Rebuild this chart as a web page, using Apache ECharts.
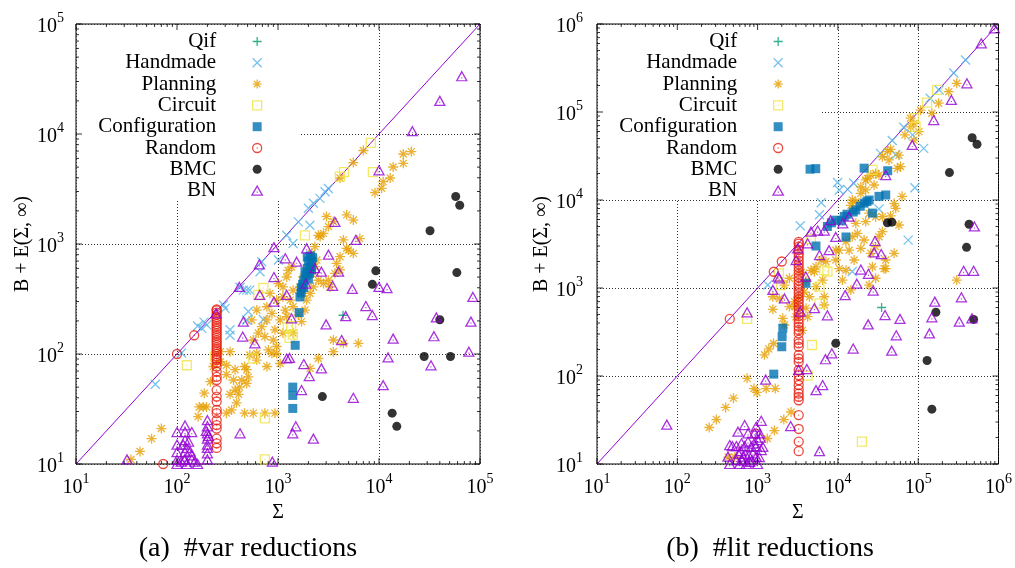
<!DOCTYPE html>
<html>
<head>
<meta charset="utf-8">
<title>B + E(Σ, ∞) against Σ</title>
<script src="https://cdn.jsdelivr.net/npm/echarts@6/dist/echarts.min.js"></script>
<style>
  html, body { margin: 0; padding: 0; background: #fff; }
  #chart { width: 1015px; height: 568px; }
</style>
</head>
<body>
<div id="chart"></div>
<script>
// ---------- data: [Σ, B + E(Σ, ∞)] per benchmark family ----------

// decade exponents shown on the axes (10^first .. 10^last)
const varExponents = [1, 2, 3, 4, 5];
const litExponents = [1, 2, 3, 4, 5, 6];

const familyNames = ['Qif', 'Handmade', 'Planning', 'Circuit', 'Configuration', 'Random', 'BMC', 'BN'];

// (a) #var reductions
const varQif = [[4400, 225]];
const varHandmade = [
  [61, 53], [111, 102], [160, 180], [176, 171], [197, 184], [185, 195], [288, 279], [299, 260],
  [335, 166], [335, 148], [421, 404], [454, 381], [490, 381], [525, 381], [490, 204], [508, 243],
  [664, 560], [690, 690], [716, 206], [1010, 716], [1220, 1200], [1410, 1010], [1590, 1590],
  [2070, 1480], [2000, 2110], [2240, 2350], [2600, 2600], [2920, 2990], [3150, 3200]
];
const varPlanning = [
  [35, 11], [43, 13], [56, 17], [70, 21], [162, 27], [166, 33], [182, 33], [196, 33], [186, 44],
  [214, 56], [229, 77], [269, 85], [309, 79], [269, 105], [335, 105], [309, 65], [363, 58], [335, 43],
  [376, 47], [389, 36], [309, 29], [347, 31], [417, 50], [437, 58], [407, 43], [490, 54], [508, 62],
  [468, 29], [569, 29], [741, 29], [933, 29], [490, 72], [468, 77], [376, 72], [525, 98], [617, 88],
  [617, 101], [569, 134], [638, 155], [741, 144], [776, 77], [802, 109], [899, 134], [970, 101],
  [1050, 82], [690, 177], [776, 204], [871, 234], [776, 269], [970, 309], [832, 355], [1010, 437],
  [1120, 407], [1220, 501], [1260, 575], [1360, 617], [1120, 331], [1180, 251], [1320, 309],
  [1410, 269], [1590, 226], [1710, 197], [1410, 380], [1650, 407], [1220, 219], [1050, 204],
  [933, 166], [1120, 155], [970, 117], [871, 101], [1410, 155], [1710, 355], [1920, 309],
  [1850, 251], [2080, 355], [2240, 407], [2510, 468], [2820, 437], [3160, 468], [3270, 407],
  [3660, 541], [3800, 667], [4110, 767], [4790, 912], [4440, 1090], [4970, 881], [5570, 822],
  [2150, 822], [2320, 946], [2610, 1170], [2820, 1250], [3160, 1440], [3530, 1600], [3020, 1780],
  [2510, 1200], [2420, 716], [2000, 622], [2320, 622], [2150, 541], [1780, 501], [4110, 581],
  [4790, 1840], [5570, 1650], [6460, 1120], [3530, 134], [3530, 105], [4440, 125], [6240, 125],
  [2510, 91], [2080, 74], [4110, 3980], [5570, 5500], [7000, 7080], [9120, 2930], [10600, 3210],
  [11000, 3690], [12900, 3980], [13800, 5010], [17400, 5410], [17400, 6580], [20900, 6920],
  [617, 251], [550, 204]
];
const varCircuit = [
  [125, 79], [238, 95], [569, 91], [741, 26], [741, 11], [638, 344], [716, 398], [1250, 175],
  [1350, 180], [1400, 150], [1300, 140], [1850, 1200], [8300, 8300], [8700, 4500], [4500, 4500],
  [4100, 4100]
];
const varConfiguration = [
  [2100, 780], [2150, 700], [2100, 620], [2000, 700], [1950, 600], [2050, 540], [1900, 520],
  [1800, 470], [1750, 430], [1700, 400], [1850, 560], [2000, 480], [1700, 360], [2200, 750],
  [2150, 580], [1950, 760], [1800, 400], [1650, 330], [1620, 238], [1480, 120], [1400, 50],
  [1400, 42], [1400, 32]
];
const varRandomSigma = 247;
const varRandomColumn = [
  14, 15.4, 17, 21, 22.6, 25, 29, 31, 37, 41, 47, 58, 62, 69, 77, 83, 88, 91, 95, 100, 105, 110,
  115, 121, 127, 133, 140, 147, 154, 162, 170, 178, 187, 196, 206, 216, 227, 238, 250, 255
];
const varRandomOther = [[73, 10], [100, 100], [148, 148]];
const varBMC = [
  [32000, 1320], [57500, 2700], [63000, 2250], [9300, 570], [8600, 430], [59000, 550],
  [40000, 205], [28000, 95], [51000, 95], [2750, 41], [13500, 29], [15000, 22]
];
const varBN = [
  [32, 11], [100, 12.8], [120, 12.8], [100, 10.9], [118, 10.9], [120, 22.4], [100, 19.5], [120, 19.5],
  [140, 19.5], [115, 15], [125, 14], [135, 13], [130, 16], [140, 12], [120, 11], [140, 11], [110, 10.5],
  [150, 10.5], [100, 15], [120, 16.5], [200, 25], [200, 22], [200, 19], [200, 17], [200, 15], [200, 14],
  [200, 12.5], [200, 11], [195, 20], [205, 18], [421, 19], [880, 10.5], [100, 10], [125, 10], [160, 10],
  [243, 234], [414, 407], [653, 653], [912, 935], [660, 344], [454, 197], [447, 144], [590, 125],
  [912, 501], [912, 299], [1180, 741], [1220, 344], [1360, 211], [1220, 91], [1300, 92], [1530, 690],
  [1710, 47], [1800, 81], [1920, 912], [1890, 437], [2040, 63], [1500, 22], [1400, 19], [2240, 17],
  [2690, 74], [2320, 603], [2690, 560], [3160, 800], [3470, 417], [2990, 186], [3660, 1590],
  [3980, 560], [4270, 134], [4680, 221], [5440, 390], [5890, 1090], [5570, 40], [7410, 273],
  [8590, 226], [10000, 407], [12000, 398], [10000, 4680], [11000, 52], [12300, 93], [13800, 138],
  [21400, 10600], [40000, 20000], [66000, 33500], [32700, 79], [35000, 145], [37000, 215],
  [77600, 105], [81300, 197], [85000, 330]
];

// (b) #lit reductions
const litQif = [[35000, 600]];
const litHandmade = [
  [1340, 1080], [3400, 5100], [5900, 6800], [6200, 9300], [9900, 15800], [10400, 13000],
  [13200, 13200], [15800, 15500], [15100, 1540], [32500, 7900], [33900, 33900], [47500, 47500],
  [52500, 32700], [66000, 67000], [75000, 3500], [91000, 13800], [117000, 38600],
  [141000, 143000], [182000, 178000], [277000, 277000], [389000, 389000], [85000, 55000]
];
const litPlanning = [
  [250, 26], [307, 32], [400, 44], [500, 56], [740, 94], [900, 72], [980, 65], [1280, 72], [1660, 72],
  [430, 12], [520, 12], [1220, 174], [1380, 203], [1580, 234], [2610, 39], [2120, 32], [1320, 19.5],
  [1620, 24], [1550, 573], [2060, 452], [2160, 380], [1870, 760], [2490, 615], [2880, 700],
  [4010, 590], [4200, 472], [4620, 1590], [5090, 1530], [5340, 1035], [6760, 795], [6760, 641],
  [6170, 2080], [6460, 1230], [7080, 2000], [9440, 2080], [9440, 2690], [10400, 1660],
  [11400, 1230], [12600, 1590], [14500, 950], [13800, 2690], [15900, 2080], [12600, 3370],
  [15100, 3830], [17500, 4170], [19300, 2820], [16700, 5430], [22200, 5680], [21200, 3510],
  [25700, 2480], [26900, 1740], [29500, 2950], [24500, 1080], [37500, 1660], [32500, 3830],
  [35800, 4370], [29500, 6460], [24500, 7080], [15100, 10000], [19300, 14100], [22200, 16900],
  [25700, 19200], [22200, 13000], [10400, 2690], [5340, 1740], [4420, 795], [2490, 1290],
  [2160, 1080], [1550, 795], [45400, 37700], [35800, 31000], [57500, 32300], [32500, 19200],
  [28200, 14800], [60300, 24000], [50100, 9100], [63100, 11000], [45400, 6600], [57500, 5200],
  [50100, 2480], [39400, 1660], [39400, 2080], [29500, 1290], [107000, 105000], [148000, 96600],
  [180000, 126000], [240000, 170000], [302000, 212000], [88300, 47900], [102000, 59800],
  [68400, 55000], [80400, 67700], [302000, 1230], [55000, 22900], [43300, 28500], [41300, 35500],
  [29500, 20000], [23300, 17600], [19300, 11900], [14500, 8700], [16700, 9550], [52500, 8040],
  [35800, 6460], [80400, 85000], [88300, 74000], [3000, 470], [3600, 330], [2900, 620],
  [3800, 900], [3500, 1500], [4000, 1200], [3200, 780]
];
const litCircuit = [
  [740, 445], [1840, 1470], [1960, 1080], [4760, 225], [4200, 101], [19900, 18], [4600, 3600],
  [6760, 1600], [7400, 1540], [5900, 1035], [5900, 670], [27000, 22000], [92700, 68000],
  [88300, 85000], [129000, 128000], [172000, 178000]
];
const litConfiguration = [
  [4500, 22400], [5300, 22700], [21200, 23000], [41700, 21500], [5330, 3000], [7400, 5000],
  [9400, 5900], [12000, 6500], [12600, 3800], [16700, 7700], [21200, 9200], [24500, 10000],
  [26900, 7100], [32500, 11000], [39400, 11400], [8300, 5500], [11000, 5800], [13000, 6900],
  [15500, 7300], [19000, 8500], [23000, 9600], [4000, 1130], [2060, 350], [2020, 280],
  [2000, 215], [1590, 105]
];
const litRandomSigma = 3250;
const litRandomColumn = [
  14, 18, 25, 36, 53, 58, 63, 70, 79, 90, 102, 117, 145, 158, 174, 215, 235, 257, 305, 333, 363,
  398, 440, 480, 520, 570, 620, 680, 740, 800, 870, 950, 1030, 1120, 1220, 1330, 1450, 1580,
  1720, 1870, 2050, 2250, 2450, 2700, 2950, 3200, 3350
];
const litRandomOther = [[450, 445], [1590, 1530], [2000, 2000], [940, 22]];
const litBMC = [
  [470000, 51000], [540000, 43000], [245000, 20500], [430000, 5300], [400000, 2900],
  [41300, 5500], [47000, 5600], [166000, 530], [490000, 440], [9400, 235], [129000, 150],
  [148000, 42]
];
const litBN = [
  [428, 12.1], [485, 16], [545, 16], [630, 17.2], [690, 16], [760, 18], [832, 15.7], [960, 16],
  [1000, 18.7], [1060, 22.3], [1110, 31], [960, 26.5], [690, 27.7], [570, 23.3], [450, 16.4],
  [875, 13.2], [658, 12.1], [545, 11.1], [795, 10.6], [598, 10], [450, 10], [724, 10], [960, 12.1],
  [1110, 14.4], [1000, 10], [1160, 15.7], [918, 22.3], [760, 22.3], [620, 14], [700, 13], [640, 11],
  [780, 12.5], [850, 11], [1050, 12], [580, 13], [900, 17], [1080, 20], [74, 28],
  [740, 530], [1550, 950], [2160, 760], [1260, 91], [2580, 27], [3240, 117], [5340, 69],
  [6460, 79], [5900, 14], [7000, 155], [8400, 181], [7400, 490], [12300, 830], [15500, 205],
  [23800, 386], [38600, 493], [59300, 445], [53300, 290], [46800, 194], [17200, 1120],
  [19300, 1620], [24000, 1450], [27500, 935], [29000, 3420], [28200, 2540], [34600, 2430],
  [39400, 19200], [84300, 42200], [156000, 81000], [259000, 137000], [404000, 212000],
  [610000, 603000], [890000, 890000], [501000, 5000], [368000, 1570], [490000, 1570],
  [345000, 783], [325000, 414], [467000, 452], [161000, 700], [148000, 464], [138000, 305],
  [1790, 1350], [3160, 2820], [3020, 2080], [4200, 3220], [4620, 4370], [5600, 4500],
  [6760, 4500], [5900, 2370], [7760, 2690], [8100, 5900], [11500, 5430], [9400, 3800],
  [13800, 6460], [5100, 590], [1860, 1290], [3980, 1350], [3400, 540], [4100, 120]
];

// ---------- presentation ----------
const SERIF = '"Liberation Serif", "Times New Roman", serif';
const STROKE = 1.3;

const MARKS = {
  Qif:           { symbol: 'path://M5 0V10M0 5H10', size: 9, color: '#009e73', open: true },
  Handmade:      { symbol: 'path://M0 0L10 10M10 0L0 10', size: 9, color: '#56b4e9', open: true },
  Planning:      { symbol: 'path://M5 0V10M0 5H10M1.5 1.5L8.5 8.5M8.5 1.5L1.5 8.5', size: 10, color: '#e69f00', open: true },
  Circuit:       { symbol: 'path://M0 0H10V10H0ZM4.5 5H5.5', size: 9, color: '#f0e442', open: true },
  Configuration: { symbol: 'path://M0 0H10V10H0Z', size: 9, color: '#0072b2', open: false },
  Random:        { symbol: 'path://M10 5A5 5 0 1 1 0 5A5 5 0 1 1 10 5ZM4.5 5H5.5', size: 9, color: '#e51e10', open: true },
  BMC:           { symbol: 'path://M10 5A5 5 0 1 1 0 5A5 5 0 1 1 10 5Z', size: 9, color: '#000000', open: false },
  BN:            { symbol: 'path://M5 0L10 8.66H0ZM4.5 5.8H5.5', size: [10, 9], color: '#9400d3', open: true }
};

const panels = [
  {
    exps: varExponents,
    families: {
      Qif: varQif, Handmade: varHandmade, Planning: varPlanning, Circuit: varCircuit,
      Configuration: varConfiguration,
      Random: varRandomColumn.map(y => [varRandomSigma, y]).concat(varRandomOther),
      BMC: varBMC, BN: varBN
    },
    grid: { left: 76, top: 24, width: 404, height: 440 },
    legendRight: 752,
    keyBox: { x: 77, y: 25, width: 222, height: 176 },
    caption: { text: '(a)  #var reductions', x: 248 },
    yNameGap: 40, yLabelMargin: 12
  },
  {
    exps: litExponents,
    families: {
      Qif: litQif, Handmade: litHandmade, Planning: litPlanning, Circuit: litCircuit,
      Configuration: litConfiguration,
      Random: litRandomColumn.map(y => [litRandomSigma, y]).concat(litRandomOther),
      BMC: litBMC, BN: litBN
    },
    grid: { left: 597, top: 24, width: 403, height: 440 },
    legendRight: 231,
    keyBox: { x: 598, y: 25, width: 222, height: 175 },
    caption: { text: '(b)  #lit reductions', x: 770 },
    yNameGap: 42, yLabelMargin: 14
  }
];

const labelRich = {
  b: { fontFamily: SERIF, fontSize: 20, color: '#000', lineHeight: 26, verticalAlign: 'bottom' },
  s: { fontFamily: SERIF, fontSize: 14, color: '#000', lineHeight: 14, verticalAlign: 'top' }
};
const powerLabel = v => '{b|10}{s|' + Math.round(Math.log10(v)) + '}';

function logAxis(p, gi, isX) {
  const lo = Math.pow(10, p.exps[0]);
  const hi = Math.pow(10, p.exps[p.exps.length - 1]);
  return {
    type: 'log', logBase: 10, gridIndex: gi, min: lo, max: hi,
    axisLine: { show: false },
    axisTick: { show: false },
    splitLine: { show: true, lineStyle: { color: '#333', width: 1, type: [1, 2] } },
    axisLabel: {
      formatter: powerLabel, rich: labelRich,
      margin: isX ? 8 : p.yLabelMargin,
      showMinLabel: true, showMaxLabel: true
    },
    name: isX ? 'Σ' : 'B + E(Σ, ∞)',
    nameLocation: 'middle',
    nameGap: isX ? 30 : p.yNameGap,
    nameTextStyle: { fontFamily: SERIF, fontSize: 20, color: '#000' }
  };
}

function familySeries(name, data, gi) {
  const m = MARKS[name];
  return {
    type: 'scatter', name, data, xAxisIndex: gi, yAxisIndex: gi,
    symbol: m.symbol, symbolSize: m.size,
    itemStyle: m.open
      ? { color: 'transparent', borderColor: m.color, borderWidth: STROKE }
      : { color: m.color, borderWidth: 0 },
    emphasis: { disabled: true },
    z: 2
  };
}

// major (decade) and minor (2..9) tick marks drawn inward on all four sides
function tickSeries(p, gi) {
  const e0 = p.exps[0], e1 = p.exps[p.exps.length - 1];
  const lo = Math.pow(10, e0), hi = Math.pow(10, e1);
  const items = [];
  for (let e = e0; e <= e1; e++) {
    for (let k = 1; k <= 9; k++) {
      const v = k * Math.pow(10, e);
      if (v > hi * 1.0001) break;
      const L = k === 1 ? 6 : 3;
      items.push({ value: [v, lo], symbolSize: [1, L], symbolOffset: [0, -L / 2] });
      items.push({ value: [v, hi], symbolSize: [1, L], symbolOffset: [0, L / 2] });
      items.push({ value: [lo, v], symbolSize: [L, 1], symbolOffset: [L / 2, 0] });
      items.push({ value: [hi, v], symbolSize: [L, 1], symbolOffset: [-L / 2, 0] });
    }
  }
  return {
    type: 'scatter', data: items, symbol: 'rect', xAxisIndex: gi, yAxisIndex: gi,
    itemStyle: { color: '#000' }, silent: true, clip: false, z: 3,
    emphasis: { disabled: true }
  };
}

function diagonalSeries(p, gi) {
  const lo = Math.pow(10, p.exps[0]);
  const hi = Math.pow(10, p.exps[p.exps.length - 1]);
  return {
    type: 'line', data: [[lo, lo], [hi, hi]], xAxisIndex: gi, yAxisIndex: gi,
    symbol: 'none', silent: true, z: 2,
    lineStyle: { color: '#9400d3', width: 1 }
  };
}

const option = {
  animation: false,
  backgroundColor: '#fff',
  grid: panels.map(p => Object.assign({
    show: true, borderColor: '#000', borderWidth: 1, backgroundColor: 'transparent'
  }, p.grid)),
  xAxis: panels.map((p, i) => logAxis(p, i, true)),
  yAxis: panels.map((p, i) => logAxis(p, i, false)),
  legend: panels.map(p => ({
    data: familyNames.map(n => ({ name: n, icon: MARKS[n].symbol })),
    orient: 'vertical', align: 'right',
    right: p.legendRight, top: 31, padding: 0,
    itemWidth: 72, itemHeight: 9, itemGap: 0.3,
    symbolKeepAspect: true, selectedMode: false,
    itemStyle: { borderWidth: STROKE },
    textStyle: { fontFamily: SERIF, fontSize: 21, lineHeight: 21, color: '#000' }
  })),
  graphic: [].concat(
    panels.map(p => ({
      type: 'rect', shape: p.keyBox, style: { fill: '#fff' }, z: 1, silent: true
    })),
    panels.map(p => ({
      type: 'text', x: p.caption.x, y: 549, silent: true,
      style: { text: p.caption.text, font: '28px ' + SERIF, fill: '#000', align: 'center', verticalAlign: 'middle' }
    }))
  ),
  series: [].concat(...panels.map((p, gi) => [
    diagonalSeries(p, gi),
    ...familyNames.map(n => familySeries(n, p.families[n], gi)),
    tickSeries(p, gi)
  ]))
};

const chart = echarts.init(document.getElementById('chart'), null, { renderer: 'canvas' });
chart.setOption(option);
</script>
</body>
</html>
